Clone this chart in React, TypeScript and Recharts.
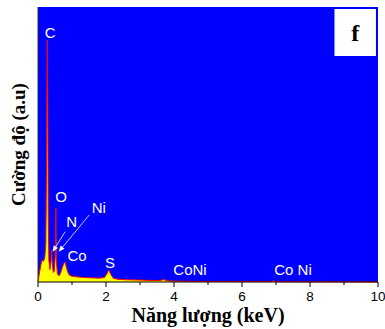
import {
  ComposedChart,
  Area,
  XAxis,
  YAxis,
  CartesianGrid,
  ReferenceDot,
  ReferenceLine,
  ReferenceArea,
} from "recharts";

// EDS spectrum, energy in keV, counts in arbitrary units (0-100)
const energy = [
  0, 0.03, 0.08, 0.12, 0.16, 0.2, 0.23, 0.25, 0.265, 0.277, 0.29, 0.3, 0.32, 0.35, 0.38,
  0.4, 0.42, 0.45, 0.48, 0.51, 0.525, 0.54, 0.57, 0.62, 0.67, 0.72, 0.77, 0.8, 0.84, 0.9,
  0.97, 1.05, 1.2, 1.4, 1.6, 1.8, 1.95, 2.02, 2.08, 2.14, 2.22, 2.35, 2.6, 3.0, 3.4, 3.62,
  3.7, 3.78, 3.9, 4.3, 5.0, 6.0, 6.85, 6.93, 7.0, 7.1, 7.5, 8.5, 10,
];
const counts = [
  0, 2.5, 6, 8, 7.5, 9, 14, 40, 75, 88, 55, 25, 8, 4.5, 7, 11.5, 7, 3.5, 4, 10, 27, 8, 3,
  2.2, 3.5, 5.5, 7, 7.2, 5, 2.8, 2.2, 2, 1.8, 1.6, 1.5, 1.4, 1.6, 2.8, 4.4, 2.8, 1.3, 1,
  0.8, 0.7, 0.55, 0.6, 0.9, 0.5, 0.35, 0.25, 0.2, 0.15, 0.15, 0.4, 0.15, 0.1, 0.08, 0.05, 0,
];

const xTicks = [0, 1, 2, 3, 4, 5, 6, 7, 8, 9, 10];

// element labels placed in data coordinates
const peakNames = ["C", "O", "N", "Ni", "Co", "S", "CoNi", "Co Ni"];
const peakE = [0.36, 0.68, 0.99, 1.79, 1.15, 2.12, 4.47, 7.5];
const peakV = [90.7, 30.9, 21.9, 26.9, 9.5, 6.9, 4.4, 4.4];

// arrows from the N and Ni labels down to their peaks
const arrowFrom = [
  { x: 0.8, y: 18.3 },
  { x: 1.51, y: 24.4 },
];
const arrowTo = [
  { x: 0.43, y: 11 },
  { x: 0.61, y: 11 },
];

const data = energy.map((e, i) => ({ e, v: counts[i] }));

const SANS = "'Liberation Sans', Arial, sans-serif";
const SERIF = "'Liberation Serif', 'Times New Roman', serif";

function EnergyTick(props: any) {
  const { x, y, payload } = props;
  const major = payload.value % 2 === 0;
  return (
    <g>
      <line x1={x} y1={y} x2={x} y2={y + (major ? 5 : 3)} stroke="#000" />
      {major && (
        <text x={x} y={y + 18.5} textAnchor="middle" fontSize={13.5} fontFamily={SANS} fill="#000">
          {payload.value}
        </text>
      )}
    </g>
  );
}

function Arrow(props: any) {
  const { x1, y1, x2, y2 } = props;
  const ang = Math.atan2(y2 - y1, x2 - x1);
  const len = 6;
  const w = 2.5;
  const bx = x2 - len * Math.cos(ang);
  const by = y2 - len * Math.sin(ang);
  const px = -Math.sin(ang) * w;
  const py = Math.cos(ang) * w;
  return (
    <g>
      <line x1={x1} y1={y1} x2={bx} y2={by} stroke="#fff" strokeWidth={0.8} />
      <polygon points={`${x2},${y2} ${bx + px},${by + py} ${bx - px},${by - py}`} fill="#fff" />
    </g>
  );
}

export default function App() {
  return (
    <div style={{ position: "absolute", left: 0, top: 0, width: 385, height: 329 }}>
      <ComposedChart
        width={385}
        height={329}
        data={data}
        margin={{ top: 7, right: 7, left: 0, bottom: 17 }}
      >
        <CartesianGrid fill="#0000ff" horizontal={false} vertical={false} />
        <XAxis
          dataKey="e"
          type="number"
          domain={[0, 10]}
          ticks={xTicks}
          interval={0}
          height={30}
          tickSize={0}
          tickMargin={0}
          tickLine={false}
          tick={<EnergyTick />}
          axisLine={{ stroke: "#000" }}
          label={{
            content: (p: any) => {
              const vb = p.viewBox;
              return (
                <text
                  x={vb.x + vb.width / 2}
                  y={vb.y + 40}
                  textAnchor="middle"
                  fontSize={20}
                  fontWeight="bold"
                  fontFamily={SERIF}
                  fill="#000"
                >
                  Năng lượng (keV)
                </text>
              );
            },
          }}
        />
        <YAxis
          yAxisId="l"
          type="number"
          domain={[0, 100]}
          width={38}
          tick={false}
          tickLine={false}
          axisLine={{ stroke: "#333" }}
          label={{
            content: (p: any) => {
              const vb = p.viewBox;
              const cx = vb.x + vb.width - 13;
              const cy = vb.y + vb.height / 2;
              return (
                <text
                  x={cx}
                  y={cy}
                  transform={`rotate(-90, ${cx}, ${cy})`}
                  textAnchor="middle"
                  fontSize={19}
                  fontWeight="bold"
                  fontFamily={SERIF}
                  fill="#000"
                >
                  Cường độ (a.u)
                </text>
              );
            },
          }}
        />
        <YAxis
          yAxisId="r"
          orientation="right"
          type="number"
          domain={[0, 100]}
          width={0}
          tick={false}
          tickLine={false}
          axisLine={{ stroke: "#888" }}
        />
        <Area
          yAxisId="l"
          type="linear"
          dataKey="v"
          fill="#ffff00"
          fillOpacity={1}
          stroke="#ff0000"
          strokeWidth={1}
          isAnimationActive={false}
        />
        {peakNames.map((name, i) => (
          <ReferenceDot
            key={name}
            yAxisId="l"
            x={peakE[i]}
            y={peakV[i]}
            r={0}
            fill="none"
            stroke="none"
            label={{
              value: name,
              position: "center",
              fill: "#fff",
              fontSize: 15,
              fontFamily: SANS,
            }}
          />
        ))}
        {arrowFrom.map((a, i) => (
          <ReferenceLine
            key={i}
            yAxisId="l"
            segment={[a, arrowTo[i]]}
            stroke="#fff"
            shape={(p: any) => <Arrow {...p} />}
          />
        ))}
        <ReferenceArea
          yAxisId="l"
          x1={8.72}
          x2={9.94}
          y1={82.2}
          y2={99.3}
          fill="#fff"
          fillOpacity={1}
          stroke="none"
          label={{
            value: "f",
            position: "center",
            fill: "#000",
            fontSize: 24,
            fontWeight: "bold",
            fontFamily: SERIF,
          }}
        />
      </ComposedChart>
    </div>
  );
}
